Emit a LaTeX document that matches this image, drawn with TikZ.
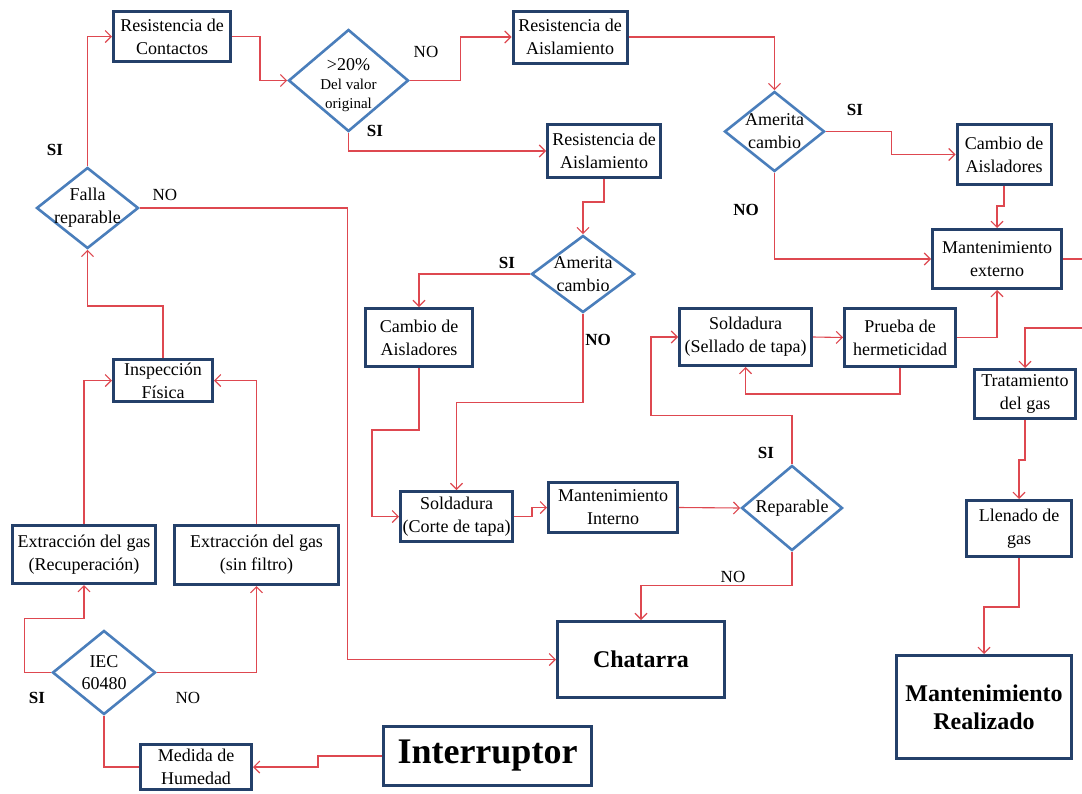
\documentclass[tikz,border=0pt]{standalone}
\usepackage{fontspec}
\setmainfont{Liberation Serif}
\usetikzlibrary{shapes.geometric,arrows.meta}
\definecolor{boxblue}{RGB}{36,64,106}
\definecolor{diablue}{RGB}{74,126,187}
\definecolor{linered}{RGB}{222,72,80}
\begin{document}
\begin{tikzpicture}[x=1pt,y=-1pt,
  box/.style={draw=boxblue, line width=3pt, fill=white, align=center, inner sep=1pt, font=\fontsize{18}{23}\selectfont},
  dia/.style={diamond, draw=diablue, line width=2.6pt, fill=white, inner sep=0pt},
  dtext/.style={align=center, inner sep=0pt, font=\fontsize{18}{23}\selectfont},
  conn/.style={draw=linered, line width=1.1pt, -{Straight Barb[length=6pt,width=12pt]}},
  plainline/.style={draw=linered, line width=1.1pt},
  yes/.style={inner sep=0pt, font=\fontsize{17}{20}\selectfont\bfseries},
  nolab/.style={inner sep=0pt, font=\fontsize{17}{20}\selectfont},
]
\useasboundingbox (0,0) rectangle (1082,793);
\fill[white] (0,0) rectangle (1082,793);

% boxes
\node[box, minimum width=117, minimum height=50] (rc) at (172,36.5) {Resistencia de\\Contactos};
\node[box, minimum width=114, minimum height=52] (ra1) at (570,37) {Resistencia de\\Aislamiento};
\node[box, minimum width=113, minimum height=53] (ra2) at (604,151) {Resistencia de\\Aislamiento};
\node[box, minimum width=94, minimum height=60] (ca1) at (1004,154.5) {Cambio de\\Aisladores};
\node[box, minimum width=129, minimum height=59] (mext) at (997,259) {Mantenimiento\\externo};
\node[box, minimum width=107, minimum height=58] (ca2) at (419,337.5) {Cambio de\\Aisladores};
\node[box, minimum width=112, minimum height=50] (sct) at (456.5,516.5) {Soldadura\\(Corte de tapa)};
\node[box, minimum width=129, minimum height=50] (mint) at (613,507.5) {Mantenimiento\\Interno};
\node[box, minimum width=132, minimum height=57] (sst) at (745.5,337) {Soldadura\\(Sellado de tapa)};
\node[box, minimum width=111, minimum height=58] (ph) at (900,337.5) {Prueba de\\hermeticidad};
\node[box, minimum width=101, minimum height=49] (tg) at (1025,394) {Tratamiento\\del gas};
\node[box, minimum width=105, minimum height=56] (lg) at (1019,528.5) {Llenado de\\gas};
\node[box, minimum width=175, minimum height=103, font=\fontsize{24}{28}\selectfont\bfseries] (mr) at (984,707) {Mantenimiento\\Realizado};
\node[box, minimum width=167, minimum height=76, font=\fontsize{24}{28}\selectfont\bfseries] (ch) at (641,659.5) {Chatarra};
\node[box, minimum width=208, minimum height=59, font=\fontsize{36}{40}\selectfont\bfseries] (int) at (487.5,756) {Interruptor};
\node[box, minimum width=111, minimum height=45] (mh) at (196,767) {Medida de\\Humedad};
\node[box, minimum width=143, minimum height=58] (egr) at (84,554.5) {Extracción del gas\\(Recuperación)};
\node[box, minimum width=164, minimum height=59] (egs) at (256.5,555) {Extracción del gas\\(sin filtro)};
\node[box, minimum width=99, minimum height=42] (if) at (163,380.5) {Inspección\\Física};

% diamonds
\node[dia, minimum width=102, minimum height=81] (fr) at (87.5,208) {};
\node[dtext] (frt) at (fr.center) {Falla\\reparable};
\node[dia, minimum width=120, minimum height=102] (d20) at (348.5,80.5) {};
\node[dtext, font=\fontsize{15}{19}\selectfont] (d20t) at ([yshift=-5pt]d20.center) {{\fontsize{18}{19}\selectfont >20\%}\\Del valor\\original};
\node[dia, minimum width=100, minimum height=80] (ac1) at (774.5,131.5) {};
\node[dtext] (ac1t) at (ac1.center) {Amerita\\cambio};
\node[dia, minimum width=103, minimum height=77] (ac2) at (583,274) {};
\node[dtext] (ac2t) at (ac2.center) {Amerita\\cambio};
\node[dia, minimum width=101, minimum height=85] (rep) at (792,508) {};
\node[dtext] (rept) at (rep.center) {Reparable};
\node[dia, minimum width=103, minimum height=84] (iec) at (104,672.5) {};
\node[dtext, font=\fontsize{18}{22}\selectfont] (iect) at (iec.center) {IEC\\60480};

% edge coordinates
\coordinate (redge1) at (1082,259);
\coordinate (redge2) at (1082,328);

% connectors
\draw[conn] (int.west) -- ++(-64,0) |- (mh.east);
\draw[plainline] (mh.west) -| (iec.south);
\draw[conn] (iec.west) -- ++(-27,0) -- ++(0,-54) -| (egr.south);
\draw[conn] (iec.east) -| (egs.south);
\draw[conn] (egr.north) |- (if.west);
\draw[conn] (egs.north) |- (if.east);
\draw[conn] (if.north) -- ++(0,-52) -| (fr.south);
\draw[conn] (fr.north) |- (rc.west);
\draw[conn] (fr.east) -- ++(208,0) |- (ch.west);
\draw[conn] (rc.east) -- ++(28,0) |- (d20.west);
\draw[conn] (d20.east) -- ++(51,0) |- (ra1.west);
\draw[conn] (d20.south) |- (ra2.west);
\draw[conn] (ra1.east) -| (ac1.north);
\draw[conn] (ac1.east) -- ++(66,0) |- (ca1.west);
\draw[conn] (ac1.south) |- (mext.west);
\draw[conn] (ca1.south) -- ++(0,20) -| (mext.north);
\draw[plainline] (mext.east) -- (redge1);
\draw[conn] (ph.east) -| (mext.south);
\draw[conn] (ph.south) -- ++(0,26) -| (sst.south);
\draw[conn] (sst.east) -- (ph.west);
\draw[conn] (ra2.south) -- ++(0,23) -| (ac2.north);
\draw[conn] (ac2.west) -| (ca2.north);
\draw[conn] (ac2.south) -- ++(0,89) -| (sct.north);
\draw[conn] (ca2.south) -- ++(0,62) -- ++(-47,0) |- (sct.west);
\draw[conn] (sct.east) -- ++(18,0) |- (mint.west);
\draw[conn] (mint.east) -- (rep.west);
\draw[conn] (rep.north) -- ++(0,-49) -- ++(-141,0) |- (sst.west);
\draw[conn] (rep.south) -- ++(0,34) -| (ch.north);
\draw[conn] (redge2) -| (tg.north);
\draw[conn] (tg.south) -- ++(0,40) -| (lg.north);
\draw[conn] (lg.south) -- ++(0,49) -| (mr.north);

% branch labels
\node[yes] (l1) at (55,150) {SI};
\node[nolab] (l2) at (165,195) {NO};
\node[nolab] (l3) at (426,52) {NO};
\node[yes] (l4) at (375,131) {SI};
\node[yes] (l5) at (855,110) {SI};
\node[yes] (l6) at (746,210) {NO};
\node[yes] (l7) at (507,263) {SI};
\node[yes] (l8) at (598,340) {NO};
\node[yes] (l9) at (766,453) {SI};
\node[nolab] (l10) at (733,577) {NO};
\node[yes] (l11) at (37,698) {SI};
\node[nolab] (l12) at (188,698) {NO};
\end{tikzpicture}
\end{document}
